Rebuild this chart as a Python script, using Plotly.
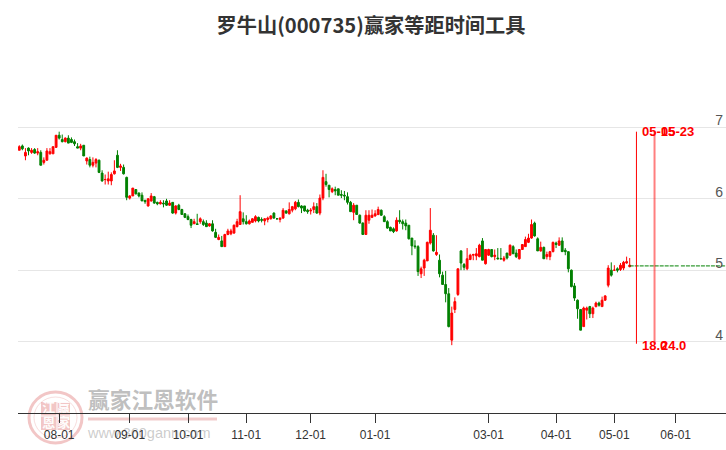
import plotly.graph_objects as go

title = "罗牛山(000735)赢家等距时间工具"
opens = [6.68,6.74,6.60,6.71,6.65,6.69,6.64,6.65,6.51,6.54,6.63,6.63,6.72,6.89,6.83,6.80,6.85,6.83,6.80,6.73,6.71,6.75,6.53,6.55,6.47,6.50,6.54,6.36,6.27,6.25,6.25,6.35,6.61,6.44,6.44,6.30,6.01,6.04,6.13,6.08,6.05,5.98,5.90,5.97,6.03,5.95,5.93,5.94,5.97,5.91,5.95,5.80,5.91,5.85,5.79,5.75,5.71,5.65,5.65,5.68,5.68,5.66,5.62,5.65,5.53,5.43,5.41,5.33,5.50,5.51,5.52,5.61,5.64,
5.72,5.68,5.65,5.67,5.69,5.74,5.71,5.69,5.71,5.72,5.80,5.72,5.71,5.73,5.83,5.79,5.84,5.86,5.95,5.90,5.90,5.84,5.83,5.85,5.89,5.80,6.01,6.24,6.19,6.10,6.13,6.14,6.06,6.05,6.03,5.95,5.81,5.91,5.77,5.66,5.50,5.70,5.74,5.76,5.78,5.84,5.75,5.68,5.60,5.58,5.55,5.70,5.68,5.66,5.63,5.45,5.34,5.33,4.95,5.03,5.13,5.38,5.49,5.22,5.14,4.93,4.80,4.67,4.02,4.45,4.66,5.27,5.08,5.02,5.15,5.21,5.20,5.19,
5.41,5.09,5.21,5.29,5.19,5.17,5.16,5.14,5.24,5.21,5.33,5.24,5.16,5.29,5.33,5.39,5.45,5.66,5.44,5.27,5.32,5.19,5.19,5.26,5.38,5.35,5.41,5.28,5.26,5.00,4.78,4.58,4.45,4.21,4.44,4.49,4.39,4.49,4.54,4.49,4.58,4.79,5.00,5.00,5.02,5.01,5.03,5.10,5.05]
closes = [6.73,6.70,6.65,6.67,6.68,6.64,6.66,6.47,6.54,6.67,6.66,6.73,6.89,6.85,6.80,6.85,6.78,6.79,6.77,6.71,6.74,6.60,6.57,6.47,6.51,6.55,6.37,6.25,6.27,6.28,6.34,6.39,6.44,6.46,6.35,6.02,6.04,6.15,6.07,6.04,5.97,5.96,6.00,6.04,5.94,5.93,5.95,5.93,5.91,5.94,5.80,5.90,5.85,5.78,5.74,5.71,5.63,5.68,5.64,5.72,5.64,5.61,5.65,5.55,5.46,5.46,5.33,5.50,5.55,5.55,5.63,5.68,5.82,
5.68,5.65,5.69,5.72,5.75,5.69,5.70,5.72,5.73,5.76,5.73,5.72,5.73,5.84,5.80,5.85,5.89,5.95,5.89,5.87,5.83,5.82,5.84,5.89,5.80,6.01,6.30,6.20,6.13,6.14,6.11,6.05,6.05,6.04,5.95,5.82,5.91,5.78,5.66,5.50,5.77,5.77,5.77,5.79,5.85,5.77,5.68,5.59,5.55,5.54,5.70,5.68,5.65,5.62,5.44,5.34,5.33,4.98,5.02,5.14,5.39,5.56,5.27,5.25,4.95,4.80,4.67,4.21,4.40,4.56,5.02,5.10,5.04,5.16,5.21,5.22,5.23,5.35,
5.14,5.29,5.29,5.19,5.21,5.16,5.16,5.17,5.17,5.35,5.23,5.19,5.29,5.36,5.43,5.45,5.64,5.48,5.27,5.32,5.16,5.22,5.26,5.39,5.36,5.41,5.26,5.26,5.02,4.77,4.61,4.46,4.16,4.47,4.47,4.39,4.47,4.54,4.51,4.58,4.64,5.03,4.93,5.00,5.00,5.07,5.11,5.12,5.07]
highs = [6.75,6.76,6.71,6.72,6.71,6.71,6.71,6.68,6.58,6.71,6.71,6.73,6.89,6.94,6.90,6.86,6.89,6.86,6.83,6.78,6.77,6.75,6.58,6.59,6.58,6.57,6.55,6.40,6.34,6.38,6.37,6.54,6.68,6.49,6.48,6.31,6.05,6.15,6.13,6.09,6.09,5.98,6.01,6.08,6.04,5.96,5.98,5.98,6.00,5.98,5.95,5.91,5.93,5.86,5.80,5.78,5.72,5.72,5.79,5.74,5.71,5.70,5.66,5.70,5.58,5.50,5.48,5.51,5.58,5.58,5.64,5.72,6.05,
5.81,5.77,5.71,5.73,5.77,5.75,5.74,5.73,5.75,5.77,5.81,5.73,5.74,5.87,5.84,5.95,5.90,5.97,5.99,5.91,5.90,5.86,5.87,5.95,5.94,6.06,6.40,6.35,6.19,6.16,6.17,6.14,6.12,6.11,6.09,5.97,5.94,5.91,5.78,5.67,5.84,5.84,5.85,5.84,5.89,5.85,5.77,5.70,5.61,5.60,5.74,5.84,5.71,5.71,5.63,5.45,5.42,5.35,5.05,5.16,5.40,5.87,5.52,5.49,5.22,4.98,4.99,4.75,4.49,4.62,5.02,5.28,5.10,5.31,5.23,5.23,5.31,5.37,
5.45,5.29,5.30,5.29,5.29,5.31,5.31,5.20,5.24,5.36,5.35,5.29,5.29,5.36,5.47,5.51,5.71,5.68,5.46,5.40,5.33,5.26,5.27,5.40,5.40,5.46,5.46,5.31,5.26,5.01,4.82,4.59,4.45,4.49,4.49,4.50,4.49,4.56,4.56,4.63,4.65,5.07,5.11,5.07,5.04,5.10,5.13,5.19,5.17]
lows = [6.68,6.68,6.54,6.61,6.63,6.63,6.61,6.47,6.48,6.54,6.62,6.63,6.72,6.83,6.79,6.79,6.78,6.78,6.74,6.71,6.68,6.60,6.48,6.44,6.44,6.44,6.36,6.24,6.20,6.20,6.19,6.34,6.43,6.39,6.34,5.98,5.99,6.04,6.06,6.02,5.97,5.93,5.89,5.96,5.93,5.91,5.92,5.88,5.90,5.90,5.79,5.78,5.84,5.78,5.73,5.70,5.59,5.65,5.64,5.65,5.62,5.61,5.61,5.54,5.45,5.42,5.33,5.33,5.49,5.49,5.51,5.60,5.64,
5.64,5.64,5.64,5.67,5.67,5.67,5.67,5.63,5.67,5.71,5.72,5.71,5.67,5.72,5.79,5.78,5.81,5.84,5.88,5.80,5.82,5.79,5.78,5.80,5.79,5.77,5.98,6.17,6.02,6.08,6.05,6.05,6.01,5.98,5.92,5.82,5.70,5.78,5.65,5.50,5.50,5.65,5.73,5.75,5.77,5.76,5.68,5.58,5.55,5.52,5.54,5.65,5.57,5.56,5.43,5.21,5.30,4.92,4.89,4.92,5.13,5.36,5.26,5.20,4.90,4.80,4.55,4.20,3.95,4.40,4.64,5.00,5.00,5.00,5.14,5.14,5.14,5.18,
5.14,5.08,5.20,5.18,5.14,5.15,5.15,5.12,5.15,5.21,5.23,5.17,5.15,5.29,5.33,5.38,5.44,5.47,5.27,5.26,5.16,5.15,5.14,5.25,5.31,5.34,5.26,5.21,4.97,4.76,4.57,4.32,4.16,4.21,4.31,4.33,4.33,4.48,4.49,4.49,4.57,4.76,4.91,4.99,4.97,4.99,5.00,5.09,5.04]
sessions = list(range(1, len(opens) + 1))

tick_sessions = [14, 37, 56, 75, 96, 117, 154, 176, 195, 215]
tick_labels = ["08-01","09-01","10-01","11-01","12-01","01-01","03-01","04-01","05-01","06-01"]
price_ticks = [3, 4, 5, 6, 7]

last_level = 5.06
level_sessions = [200, 216.3, None, 216.7, 231.4]
level_values = [last_level, last_level, None, last_level, last_level]
marker_sessions = [202.2, 208.1]
marker_dates = ["05-15", "05-23"]
marker_counts = ["18.0", "24.0"]
marker_top = 6.94
marker_bottom = 3.97

fig = go.Figure()
fig.add_trace(go.Candlestick(
    x=sessions, open=opens, high=highs, low=lows, close=closes,
    increasing=dict(line=dict(color="#ff0000", width=1), fillcolor="#ff0000"),
    decreasing=dict(line=dict(color="#008000", width=1), fillcolor="#008000"),
    whiskerwidth=0, showlegend=False, hoverinfo="skip"))
fig.add_trace(go.Scatter(x=level_sessions, y=level_values, mode="lines",
    line=dict(color="#008000", width=1, dash="4px 1px"), showlegend=False, hoverinfo="skip"))
fig.add_trace(go.Scatter(x=[marker_sessions[0]]*2, y=[marker_bottom, marker_top], mode="lines",
    line=dict(color="#ff0000", width=1), showlegend=False, hoverinfo="skip"))
fig.add_trace(go.Scatter(x=[marker_sessions[1]]*2, y=[marker_bottom, marker_top], mode="lines",
    line=dict(color="rgba(255,0,0,0.5)", width=2), showlegend=False, hoverinfo="skip"))

annos = []
for s, d, c in zip(marker_sessions, marker_dates, marker_counts):
    for txt, yv, ys in ((d, marker_top, 0), (c, marker_bottom, -2)):
        annos.append(dict(x=s, y=yv, xref="x", yref="y", text=f"<b>{txt}</b>", showarrow=False,
            xanchor="left", yanchor="middle", xshift=4, yshift=ys,
            font=dict(color="#ff0000", size=13, family="Liberation Sans")))

# watermark sits under the axes: shape labels in the "below" layer, paper coordinates from page pixels
def px(x): return (x - 18) / 708
def py(y): return (413 - y) / 357.5
SEAL = "rgba(225,120,120,0.42)"
shapes = [
    dict(type="circle", xref="paper", yref="paper", x0=px(29), x1=px(82), y0=py(443), y1=py(392), layer="below",
         line=dict(color=SEAL, width=3)),
    dict(type="circle", xref="paper", yref="paper", x0=px(34), x1=px(77), y0=py(438), y1=py(397), layer="below",
         line=dict(color="rgba(225,120,120,0.25)", width=1)),
    dict(type="line", xref="paper", yref="paper", x0=px(88), x1=px(217), y0=py(419), y1=py(419), layer="below",
         line=dict(color="rgba(225,140,140,0.45)", width=3)),
    dict(type="rect", xref="paper", yref="paper", x0=px(85), x1=px(218), y0=py(414), y1=py(390), layer="below",
         line=dict(width=0), fillcolor="rgba(0,0,0,0)",
         label=dict(text="<b>赢家江恩软件</b>", textposition="middle left", padding=0,
                    font=dict(size=21.7, color="rgba(170,170,170,0.75)", family="Noto Sans CJK SC"))),
    dict(type="rect", xref="paper", yref="paper", x0=px(85), x1=px(218), y0=py(441), y1=py(423), layer="below",
         line=dict(width=0), fillcolor="rgba(0,0,0,0)",
         label=dict(text="www.360gann.com", textposition="middle left", padding=0,
                    font=dict(size=14.5, color="rgba(170,170,170,0.6)", family="Liberation Sans"))),
]
for ch, x0, x1, y0, y1 in (("江",41,56.5,402,415.5),("赢",57.5,70,402,415.5),("恩",41,56.5,416.5,430),("家",57.5,70,416.5,430)):
    shapes.append(dict(type="rect", xref="paper", yref="paper", x0=px(x0), x1=px(x1), y0=py(y1), y1=py(y0),
                       layer="below", line=dict(width=0), fillcolor=SEAL,
                       label=dict(text=f"<b>{ch}</b>", textposition="middle center", padding=0,
                                  font=dict(size=13, color="rgba(255,255,255,0.95)", family="Noto Sans CJK SC"))))

fig.update_layout(
    width=726, height=450, autosize=False,
    margin=dict(l=18, r=0, t=55.5, b=37),
    boxgap=0.15,
    paper_bgcolor="#ffffff", plot_bgcolor="rgba(0,0,0,0)",
    title=dict(text=f"<b>{title}</b>", x=371/726, xanchor="center", y=1-26/450, yanchor="middle",
               font=dict(size=20.2, color="#333333", family="Noto Sans CJK SC")),
    xaxis=dict(range=[0.576, 231.4], tickmode="array", tickvals=tick_sessions, ticktext=tick_labels,
               showgrid=False, zeroline=False, rangeslider=dict(visible=False),
               showline=True, linecolor="#333333", linewidth=1,
               ticks="outside", ticklen=9, tickcolor="#333333", tickwidth=1, ticklabelstandoff=2,
               tickfont=dict(size=12, color="#333333", family="Liberation Sans")),
    yaxis=dict(range=[3, 8], side="right", tickmode="array", tickvals=price_ticks,
               ticktext=[str(v) for v in price_ticks], showgrid=True, gridcolor="#e6e6e6", gridwidth=1,
               zeroline=False, showline=False, ticks="",
               ticklabelposition="inside", ticklabelshift=-7,
               tickfont=dict(size=14, color="#555555", family="Liberation Sans")),
    annotations=annos, shapes=shapes,
)
fig.write_html("out.html", config={"displayModeBar": False},
               post_script="document.body.style.margin='0';document.documentElement.style.overflow='hidden';")
